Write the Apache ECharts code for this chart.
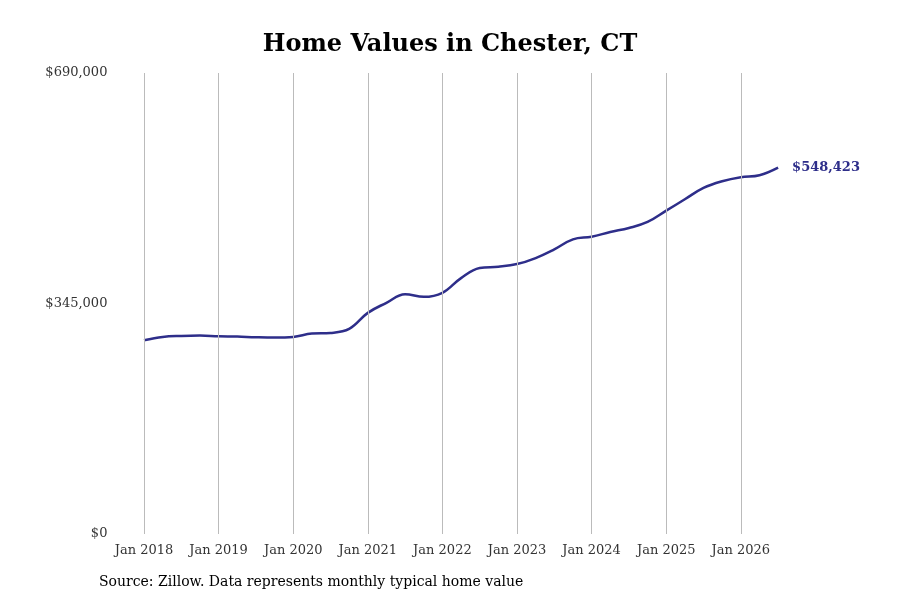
<!DOCTYPE html><html><head><meta charset="utf-8"><script src="https://cdn.jsdelivr.net/npm/echarts@6/dist/echarts.min.js"></script></head><body style="margin:0"><div id="c" style="width:900px;height:600px"></div><script>
const dates=[2018,2018.25,2018.5,2018.75,2019,2019.25,2019.5,2019.75,2020,2020.25,2020.5,2020.75,2021,2021.25,2021.5,2021.75,2022,2022.25,2022.5,2022.75,2023,2023.25,2023.5,2023.75,2024,2024.25,2024.5,2024.75,2025,2025.25,2025.5,2025.75,2026,2026.25,2026.5];
const values=[290000,295000,296500,297000,296000,295500,294500,294000,295000,300000,301000,307000,331000,346000,359000,355000,361000,383000,398000,400000,404000,413000,426000,441000,445000,452000,458000,467000,484000,501000,518000,528000,534000,537000,548423];
const years=[2018,2019,2020,2021,2022,2023,2024,2025,2026];
const yTicks=[0,345000,690000];
const font="DejaVu Serif";
const c=echarts.init(document.getElementById('c'));
c.setOption({
title:{text:'Home Values in Chester, CT',left:'center',top:28,textStyle:{fontFamily:font,fontSize:24,fontWeight:'bold',color:'#000'}},
graphic:[{type:'text',left:99,top:575,style:{text:'Source: Zillow. Data represents monthly typical home value',font:'14px "DejaVu Serif"',fill:'#000'}}],
grid:{left:69.4,right:10,top:73,bottom:66},
xAxis:{type:'value',min:2017,max:2028,interval:1,axisLine:{show:false},axisTick:{show:false},splitLine:{show:false},
 axisLabel:{fontFamily:font,fontSize:13,color:'#333',margin:10,formatter:v=>years.includes(v)?'Jan '+v:''}},
yAxis:{type:'value',min:0,max:690000,interval:345000,offset:-46,axisLine:{show:false},axisTick:{show:false},splitLine:{show:false},
 axisLabel:{fontFamily:font,fontSize:13,color:'#333',margin:8,formatter:v=>'$'+v.toLocaleString('en-US')}},
series:[{type:'line',data:dates.map((d,i)=>[d,values[i]]),smooth:0.4,symbol:'none',lineStyle:{color:'#2e2e8a',width:2.5},
 endLabel:{show:true,fontFamily:font,fontWeight:'bold',fontSize:13,color:'#2e2e8a',distance:14,formatter:p=>'$'+p.value[1].toLocaleString('en-US')},
 markLine:{silent:true,symbol:'none',label:{show:false},lineStyle:{color:'#bbb',width:1,type:'solid'},data:years.map(y=>({xAxis:y}))}}]
});
</script></body></html>
